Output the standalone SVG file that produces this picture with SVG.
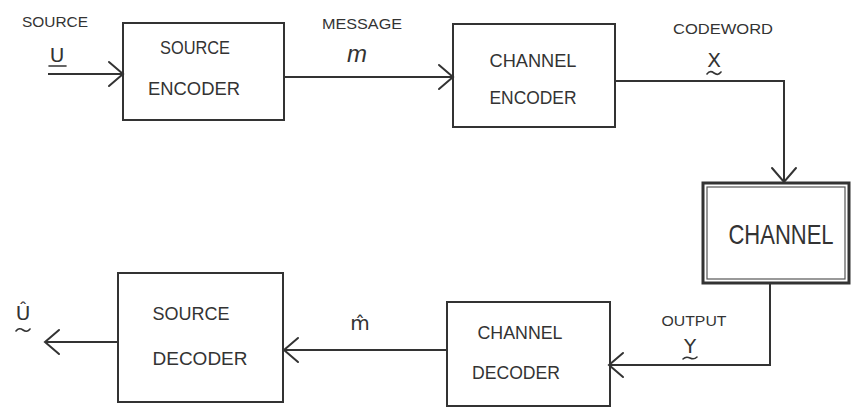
<svg xmlns="http://www.w3.org/2000/svg" width="852" height="407" viewBox="0 0 852 407">
  <style>
    .box { fill: none; stroke: #333; stroke-width: 2; }
    .wire { fill: none; stroke: #333; stroke-width: 2; }
    .t { font-family: "Liberation Sans", "DejaVu Sans", sans-serif; fill: #333; text-anchor: middle; }
    .lbl { font-size: 15px; }
    .blk { font-size: 18px; }
    .sym { font-family: "DejaVu Sans", "Liberation Sans", sans-serif; fill: #333; text-anchor: middle; font-size: 20px; }
    .mark { fill: none; stroke: #333; stroke-width: 1.6; stroke-linecap: round; }
  </style>
  <defs>
    <marker id="open" markerUnits="userSpaceOnUse" markerWidth="16" markerHeight="24" refX="14" refY="12" orient="auto" overflow="visible">
      <path d="M0,0 L14,12 L0,24" fill="none" stroke="#333" stroke-width="2" stroke-linecap="round"/>
    </marker>
  </defs>
  <rect width="852" height="407" fill="#fff"/>

  <!-- connectors -->
  <g id="connectors">
    <path class="wire" d="M48,74 L123,74" marker-end="url(#open)"/>
    <path class="wire" d="M284,77 L453,77" marker-end="url(#open)"/>
    <path class="wire" d="M615,81 L784,81 L784,182" marker-end="url(#open)"/>
    <path class="wire" d="M770,284 L770,365 L609,365" marker-end="url(#open)"/>
    <path class="wire" d="M447,350 L284,350" marker-end="url(#open)"/>
    <path class="wire" d="M118,342 L45,342" marker-end="url(#open)"/>
  </g>

  <!-- edge labels -->
  <g id="labels">
    <text class="t lbl" x="55" y="27" textLength="66" lengthAdjust="spacingAndGlyphs">SOURCE</text>
    <text class="sym" x="57" y="62" font-size="18">U</text>
    <path class="mark" d="M49,66 L66,66"/>

    <text class="t lbl" x="362" y="29" textLength="80" lengthAdjust="spacingAndGlyphs">MESSAGE</text>
    <text class="t" x="357" y="62" font-family="Liberation Serif" font-style="italic" font-size="24">m</text>

    <text class="t lbl" x="723" y="34" textLength="100" lengthAdjust="spacingAndGlyphs">CODEWORD</text>
    <text class="sym" x="714" y="67" font-size="19">X</text>
    <path class="mark" d="M707,74 Q710,70 714,73 T721,72"/>

    <text class="t lbl" x="694" y="326" textLength="65" lengthAdjust="spacingAndGlyphs">OUTPUT</text>
    <text class="sym" x="690" y="353" font-size="18">Y</text>
    <path class="mark" d="M683,359 Q686,356 690,358 T697,357"/>

    <text class="sym" x="360" y="330" font-size="24">m̂</text>

    <text class="sym" x="23" y="320" font-size="28">Û</text>
    <path class="mark" d="M16,331 Q19,327 23,330 T30,329"/>
  </g>

  <g id="source-encoder">
    <rect class="box" x="123" y="23" width="161" height="97"/>
    <text class="t blk" x="195" y="54" textLength="70" lengthAdjust="spacingAndGlyphs">SOURCE</text>
    <text class="t blk" x="194" y="95" textLength="92" lengthAdjust="spacingAndGlyphs">ENCODER</text>
  </g>

  <g id="channel-encoder">
    <rect class="box" x="453" y="24" width="162" height="103"/>
    <text class="t blk" x="533" y="67" textLength="87" lengthAdjust="spacingAndGlyphs">CHANNEL</text>
    <text class="t blk" x="533" y="104" textLength="87" lengthAdjust="spacingAndGlyphs">ENCODER</text>
  </g>

  <g id="channel">
    <rect x="703" y="183" width="146" height="100" fill="none" stroke="#333" stroke-width="3"/>
    <rect x="707" y="187" width="138" height="92" fill="none" stroke="#555" stroke-width="1.2"/>
    <text class="t" x="781" y="244" font-size="22" transform="translate(781,244) scale(1,1.25) translate(-781,-244)">CHANNEL</text>
  </g>

  <g id="channel-decoder">
    <rect class="box" x="447" y="302" width="163" height="104"/>
    <text class="t blk" x="520" y="339" textLength="85" lengthAdjust="spacingAndGlyphs">CHANNEL</text>
    <text class="t blk" x="516" y="379" textLength="88" lengthAdjust="spacingAndGlyphs">DECODER</text>
  </g>

  <g id="source-decoder">
    <rect class="box" x="118" y="273" width="165" height="129"/>
    <text class="t blk" x="191" y="320" textLength="77" lengthAdjust="spacingAndGlyphs">SOURCE</text>
    <text class="t blk" x="200" y="365" textLength="95" lengthAdjust="spacingAndGlyphs">DECODER</text>
  </g>
</svg>
